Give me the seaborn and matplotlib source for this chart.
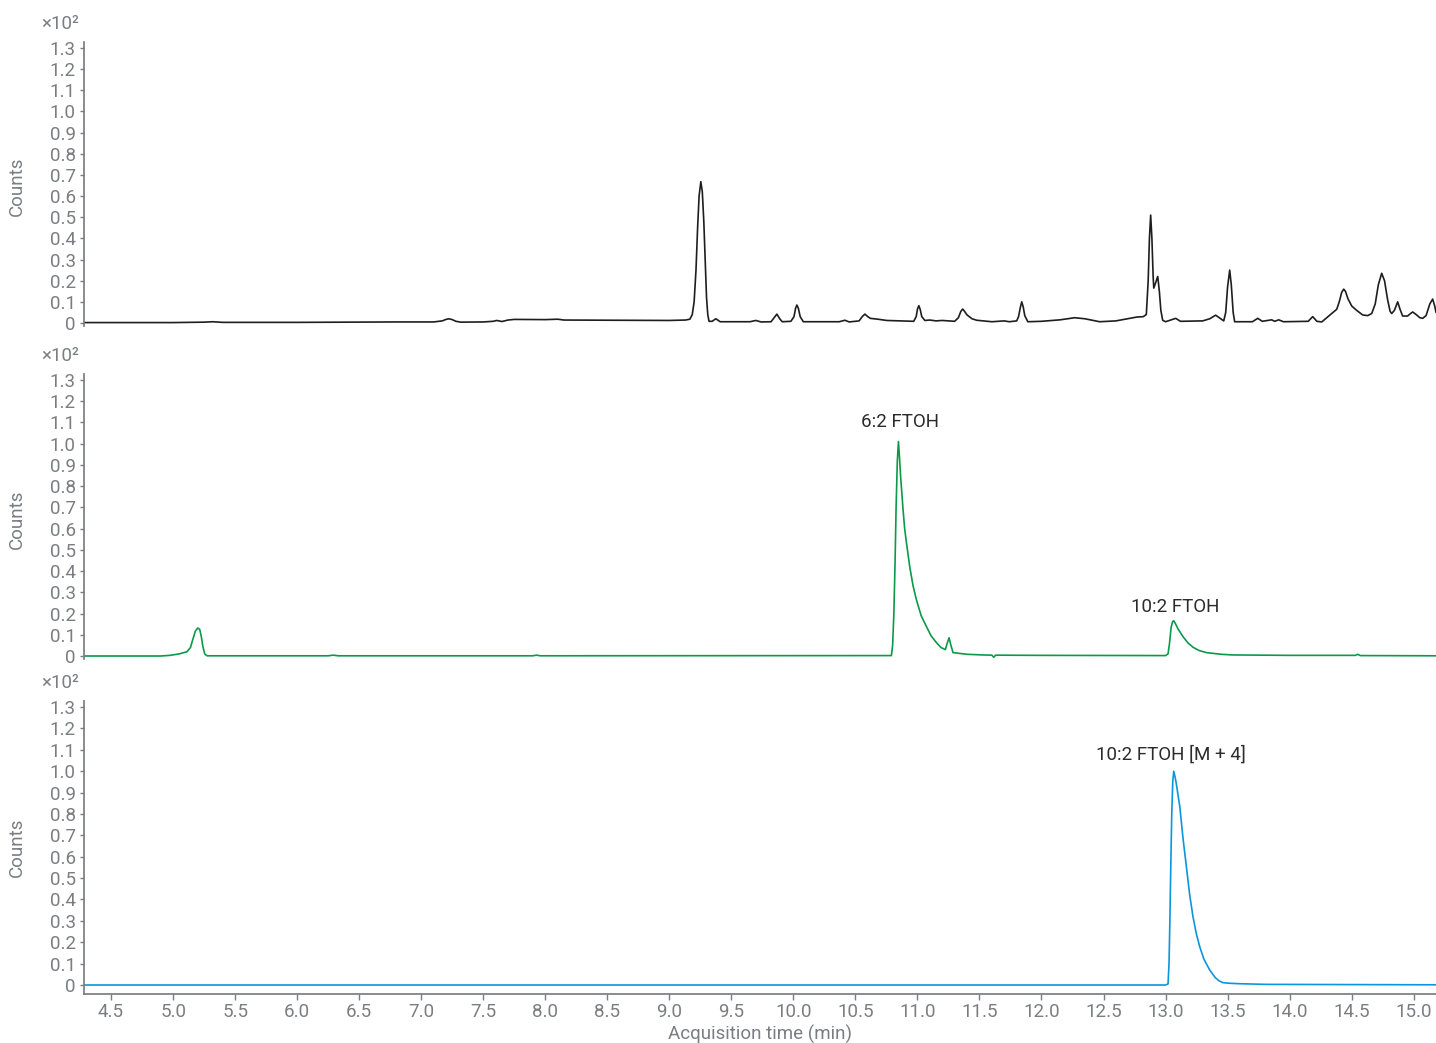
import matplotlib
matplotlib.use("Agg")
import pandas as pd
import seaborn as sns
import matplotlib.pyplot as plt
from matplotlib.ticker import FuncFormatter

# Trace 1 (black): total signal
tic_time = [4.28, 5.0, 5.25, 5.32, 5.4, 6.0, 6.8, 7.1, 7.17, 7.2, 7.224, 7.25, 7.28, 7.32,
            7.5, 7.58, 7.61, 7.65, 7.7, 7.75, 8.0, 8.1, 8.15, 8.5, 9.0, 9.13, 9.166, 9.185,
            9.2, 9.215, 9.228, 9.24, 9.254, 9.266, 9.278, 9.29, 9.3, 9.31, 9.32, 9.345,
            9.375, 9.41, 9.65, 9.697, 9.74, 9.82, 9.845, 9.867, 9.89, 9.91, 9.98, 10.005,
            10.018, 10.028, 10.04, 10.055, 10.08, 10.37, 10.415, 10.45, 10.53, 10.555,
            10.576, 10.6, 10.62, 10.68, 10.753, 10.97, 10.99, 11.0, 11.011, 11.022, 11.035,
            11.06, 11.1, 11.15, 11.2, 11.3, 11.33, 11.35, 11.365, 11.38, 11.4, 11.44,
            11.478, 11.6, 11.7, 11.74, 11.8, 11.815, 11.83, 11.841, 11.853, 11.865, 11.89,
            12.0, 12.15, 12.268, 12.35, 12.469, 12.6, 12.767, 12.82, 12.845, 12.86, 12.87,
            12.88, 12.89, 12.9, 12.905, 12.92, 12.937, 12.95, 12.962, 12.977, 13.0, 13.082,
            13.12, 13.3, 13.356, 13.404, 13.469, 13.485, 13.5, 13.517, 13.53, 13.545,
            13.557, 13.7, 13.743, 13.78, 13.855, 13.88, 13.912, 13.95, 14.15, 14.186,
            14.22, 14.259, 14.339, 14.38, 14.4, 14.42, 14.436, 14.45, 14.47, 14.501, 14.54,
            14.589, 14.63, 14.662, 14.69, 14.715, 14.742, 14.765, 14.79, 14.81, 14.823,
            14.845, 14.871, 14.89, 14.911, 14.951, 14.975, 14.992, 15.02, 15.05, 15.073,
            15.1, 15.13, 15.153, 15.17, 15.18]
tic_counts = [0.002, 0.002, 0.004, 0.006, 0.003, 0.003, 0.005, 0.005, 0.01, 0.017, 0.02,
              0.016, 0.008, 0.004, 0.005, 0.008, 0.012, 0.007, 0.014, 0.017, 0.016, 0.018,
              0.014, 0.013, 0.012, 0.014, 0.018, 0.04, 0.1, 0.25, 0.45, 0.6, 0.668, 0.62,
              0.48, 0.28, 0.12, 0.04, 0.008, 0.008, 0.02, 0.006, 0.006, 0.012, 0.005, 0.006,
              0.025, 0.042, 0.02, 0.006, 0.008, 0.03, 0.07, 0.085, 0.07, 0.03, 0.006, 0.006,
              0.013, 0.005, 0.01, 0.03, 0.042, 0.03, 0.022, 0.018, 0.012, 0.008, 0.03, 0.065,
              0.082, 0.065, 0.03, 0.012, 0.014, 0.01, 0.012, 0.008, 0.025, 0.055, 0.066,
              0.055, 0.038, 0.02, 0.013, 0.006, 0.01, 0.006, 0.01, 0.03, 0.075, 0.1, 0.075,
              0.035, 0.006, 0.008, 0.015, 0.025, 0.02, 0.006, 0.01, 0.028, 0.03, 0.04, 0.2,
              0.4, 0.51, 0.4, 0.22, 0.165, 0.19, 0.22, 0.15, 0.06, 0.013, 0.006, 0.022,
              0.008, 0.01, 0.02, 0.037, 0.01, 0.05, 0.17, 0.25, 0.18, 0.05, 0.006, 0.006,
              0.022, 0.008, 0.015, 0.008, 0.015, 0.006, 0.008, 0.03, 0.008, 0.005, 0.045,
              0.065, 0.1, 0.145, 0.16, 0.15, 0.115, 0.08, 0.06, 0.038, 0.035, 0.045, 0.09,
              0.18, 0.235, 0.2, 0.11, 0.055, 0.045, 0.06, 0.1, 0.065, 0.033, 0.033, 0.045,
              0.052, 0.04, 0.025, 0.022, 0.035, 0.09, 0.113, 0.08, 0.05]

# Trace 2 (green): FTOH ion
ftoh_time = [4.28, 4.9, 4.975, 5.05, 5.112, 5.14, 5.16, 5.18, 5.2, 5.215, 5.228, 5.24,
             5.255, 5.274, 6.25, 6.29, 6.33, 7.9, 7.93, 7.96, 10.79, 10.8, 10.81, 10.82,
             10.828, 10.838, 10.847, 10.856, 10.865, 10.884, 10.897, 10.91, 10.938, 10.965,
             10.992, 11.03, 11.073, 11.11, 11.153, 11.19, 11.225, 11.24, 11.255, 11.27,
             11.287, 11.4, 11.527, 11.6, 11.615, 11.63, 12.0, 13.0, 13.02, 13.032, 13.045,
             13.057, 13.066, 13.08, 13.1, 13.141, 13.18, 13.222, 13.27, 13.329, 13.45,
             13.541, 14.0, 14.53, 14.548, 14.57, 15.18]
ftoh_counts = [0.0, 0.0, 0.003, 0.01, 0.02, 0.04, 0.08, 0.118, 0.132, 0.125, 0.09, 0.045,
               0.01, 0.001, 0.001, 0.004, 0.001, 0.001, 0.004, 0.001, 0.002, 0.05, 0.2,
               0.45, 0.7, 0.92, 1.01, 0.93, 0.84, 0.69, 0.6, 0.54, 0.42, 0.33, 0.264, 0.19,
               0.138, 0.095, 0.063, 0.04, 0.03, 0.06, 0.086, 0.05, 0.016, 0.008, 0.005,
               0.004, -0.006, 0.004, 0.003, 0.002, 0.01, 0.06, 0.135, 0.162, 0.166, 0.152,
               0.128, 0.091, 0.062, 0.041, 0.026, 0.016, 0.008, 0.005, 0.003, 0.003, 0.008,
               0.002, 0.001]

# Trace 3 (blue): labelled standard [M + 4]
std_time = [4.28, 13.0, 13.02, 13.028, 13.035, 13.042, 13.05, 13.058, 13.066, 13.078,
            13.09, 13.1, 13.115, 13.14, 13.168, 13.195, 13.221, 13.248, 13.275, 13.31,
            13.356, 13.4, 13.43, 13.463, 13.52, 13.6, 13.812, 15.18]
std_counts = [0.0, 0.0, 0.005, 0.1, 0.3, 0.55, 0.8, 0.95, 1.0, 0.97, 0.93, 0.89, 0.834,
              0.69, 0.553, 0.42, 0.32, 0.24, 0.18, 0.12, 0.07, 0.035, 0.02, 0.011, 0.008,
              0.006, 0.003, 0.001]

peak_labels = [["6:2 FTOH", 10.858, 1.102], ["10:2 FTOH", 13.074, 0.231]]
std_labels = [["10:2 FTOH [M + 4]", 13.046, 1.076]]

x_ticks = [4.5 + 0.5 * i for i in range(22)]
y_ticks = [i / 10 for i in range(14)]

sns.set_theme(style="ticks")
plt.rcParams['font.family'] = ['Roboto', 'DejaVu Sans']

gray = "#7a7d82"
fig = plt.figure(figsize=(14.36, 10.43), dpi=100)
boxes = [[0.0585, 0.6822, 0.9415, 0.2779],
         [0.0585, 0.3629, 0.9415, 0.2789],
         [0.0585, 0.0474, 0.9415, 0.2808]]
traces = [(tic_time, tic_counts, "#1e1e1e", []),
          (ftoh_time, ftoh_counts, "#0a9a4a", peak_labels),
          (std_time, std_counts, "#0a96dc", std_labels)]

axes = []
for box, (t, c, col, labels) in zip(boxes, traces):
    ax = fig.add_axes(box)
    df = pd.DataFrame({"time": t, "counts": c})
    sns.lineplot(data=df, x="time", y="counts", ax=ax, color=col, linewidth=1.2,
                 estimator=None)
    ax.set_xlim(4.282, 15.18)
    ax.set_ylim(-0.04, 1.33)
    ax.set_yticks(y_ticks)
    ax.yaxis.set_major_formatter(FuncFormatter(lambda v, p: "0" if abs(v) < 1e-9 else f"{v:.1f}"))
    ax.set_xticks(x_ticks)
    ax.xaxis.set_major_formatter(FuncFormatter(lambda v, p: f"{v:.1f}"))
    ax.tick_params(axis="y", length=3, width=1, color=gray, labelcolor=gray,
                   labelsize=13.5, pad=3)
    ax.tick_params(axis="x", length=4, width=1, color=gray, labelcolor=gray,
                   labelsize=13.5, pad=3)
    for s in ["top", "right"]:
        ax.spines[s].set_visible(False)
    ax.spines["left"].set_color(gray)
    ax.spines["bottom"].set_color(gray)
    ax.set_ylabel("Counts", color=gray, fontsize=13.5)
    ax.yaxis.set_label_coords(-0.043, 0.5)
    ax.set_xlabel("")
    ax.annotate("×10²", xy=(0, 1), xycoords="axes fraction", xytext=(-17, 13),
                textcoords="offset points", ha="center", va="center",
                color=gray, fontsize=13.5)
    for name, lx, ly in labels:
        ax.text(lx, ly, name, ha="center", va="center", fontsize=13.5, color="#2b2b2b")
    axes.append(ax)

for ax in axes[:2]:
    ax.spines["bottom"].set_visible(False)
    ax.spines["left"].set_bounds(-0.012, 1.33)
    ax.tick_params(axis="x", bottom=False, labelbottom=False)

axes[2].set_xlabel("Acquisition time (min)", color=gray, fontsize=13.5)
axes[2].xaxis.set_label_coords(0.5, -0.105)

fig.savefig("out.png", dpi=100)
